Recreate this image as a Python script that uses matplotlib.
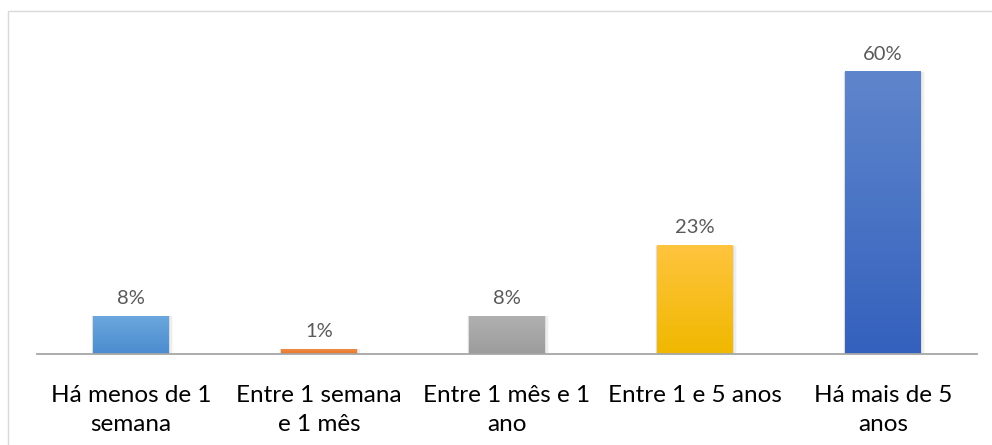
import numpy as np
import matplotlib.pyplot as plt
from matplotlib.patches import Rectangle
from matplotlib.colors import to_rgb

# Data
categories = ["Há menos de 1\nsemana", "Entre 1 semana\ne 1 mês", "Entre 1 mês e 1\nano",
              "Entre 1 e 5 anos", "Há mais de 5\nanos"]
values = [0.08, 0.01, 0.08, 0.23, 0.60]
value_labels = ["8%", "1%", "8%", "23%", "60%"]
# gradient colours (top, bottom) for each bar
top_colors = ["#6BA7DE", "#F08A42", "#B0B0B0", "#FFC43E", "#5F86CC"]
bottom_colors = ["#4A8CCF", "#E8772C", "#9C9C9C", "#F0B800", "#3461BD"]

plt.rcParams['font.family'] = ['Lato', 'DejaVu Sans']

fig = plt.figure(figsize=(9.92, 4.45), dpi=100)
ax = fig.add_axes([37 / 992, (445 - 354) / 445, 940 / 992, (354 - 25) / 445])

# outer chart border
fig.add_artist(Rectangle((8 / 992, -0.1), 1.2, (445 - 11) / 445 + 0.1, transform=fig.transFigure,
                         fill=False, edgecolor="#D9D9D9", linewidth=1))

width = 0.404
x = np.arange(len(values))
bars = ax.bar(x, values, width=width, color="none", edgecolor="none", zorder=3)

for i, b in enumerate(bars):
    x0, h = b.get_x(), b.get_height()
    # soft shadow
    for k, a in enumerate([0.07, 0.045, 0.025]):
        ax.add_patch(Rectangle((x0 - 0.004 * (k + 1), 0), width + 0.012 * (k + 1), h,
                               facecolor="black", alpha=a, edgecolor="none", zorder=2))
    c1 = np.array(to_rgb(top_colors[i]))
    c2 = np.array(to_rgb(bottom_colors[i]))
    t = np.linspace(0, 1, 100)[:, None]
    grad = (c1 * (1 - t) + c2 * t)[:, None, :]
    ax.imshow(grad, extent=[x0, x0 + width, 0, h], aspect="auto", zorder=3,
              interpolation="bilinear")
    ax.text(x[i], h + 0.020, value_labels[i], ha="center", va="bottom",
            fontsize=14.5, color="#595959")

ax.set_xlim(-0.5, 4.5)
ax.set_ylim(0, 0.7)
ax.set_yticks([])
ax.set_xticks(x)
ax.set_xticklabels(categories, fontsize=17.5, color="black", linespacing=1.5)
ax.tick_params(axis="x", length=0, pad=22)
for s in ["top", "right", "left"]:
    ax.spines[s].set_visible(False)
ax.spines["bottom"].set_color("#A6A6A6")
ax.spines["bottom"].set_linewidth(1.3)
ax.spines["bottom"].set_zorder(4)
ax.patch.set_alpha(0)

fig.savefig("out.png", dpi=100)
